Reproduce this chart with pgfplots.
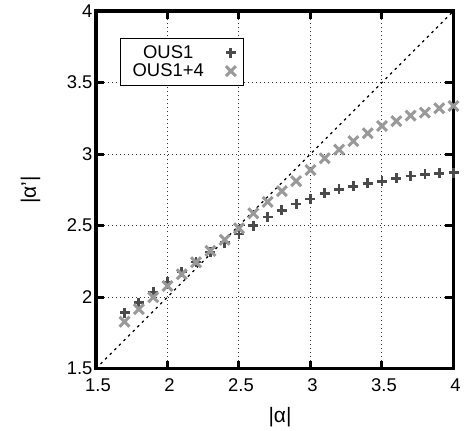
\documentclass[border=0pt]{standalone}
\usepackage{fontspec}
\setmainfont{Liberation Sans}
\usepackage{pgfplots}
\pgfplotsset{compat=1.18}

\definecolor{plusgray}{HTML}{4A4A4A}
\definecolor{crossgray}{HTML}{999999}

% |alpha'| against |alpha| for the two schemes
\pgfplotstableread{
a    b
1.7  1.890
1.8  1.960
1.9  2.035
2.0  2.105
2.1  2.175
2.2  2.245
2.3  2.315
2.4  2.380
2.5  2.440
2.6  2.500
2.7  2.560
2.8  2.605
2.9  2.650
3.0  2.685
3.1  2.725
3.2  2.752
3.3  2.775
3.4  2.795
3.5  2.810
3.6  2.830
3.7  2.846
3.8  2.858
3.9  2.865
4.0  2.870
}\ousone

\pgfplotstableread{
a    b
1.7  1.827
1.8  1.915
1.9  1.998
2.0  2.077
2.1  2.159
2.2  2.243
2.3  2.322
2.4  2.400
2.5  2.480
2.6  2.585
2.7  2.665
2.8  2.740
2.9  2.810
3.0  2.888
3.1  2.970
3.2  3.030
3.3  3.090
3.4  3.145
3.5  3.196
3.6  3.230
3.7  3.268
3.8  3.290
3.9  3.320
4.0  3.336
}\ousonefour

\begin{document}
\begin{tikzpicture}
\begin{axis}[
  at={(0,0)}, anchor=south west,
  scale only axis, width=357.5bp, height=357.5bp,
  xmin=1.5, xmax=4, ymin=1.5, ymax=4,
  xtick={1.5,2,2.5,3,3.5,4}, ytick={1.5,2,2.5,3,3.5,4},
  xtick pos=both, ytick pos=both,
  tick align=inside, major tick length=8bp,
  every tick/.style={black, line width=3bp},
  axis line style={black, line width=3.5bp},
  grid=major,
  grid style={black!80, line width=1bp, dash pattern=on 1bp off 3bp},
  /pgf/number format/assume math mode=true,
  tick label style={font=\fontsize{18.5}{22}\selectfont},
  xticklabel style={anchor=north, yshift=-7bp, xshift=2bp},
  yticklabel style={anchor=east},
  xlabel={|α|}, ylabel={|α’|},
  label style={font=\fontsize{21}{25}\selectfont},
  xlabel style={at={(axis description cs:0.5147,-0.1357)}, anchor=center},
  ylabel style={at={(axis description cs:-0.183,0.5)}, anchor=center},
  legend plot pos=right,
  legend cell align=center,
  legend style={
    at={(axis description cs:0.0671,0.9245)}, anchor=north west,
    draw=black, line width=1.3bp, fill=white,
    font=\fontsize{18.5}{22}\selectfont,
    inner xsep=8bp, inner ysep=5bp, row sep=0bp,
    nodes={inner ysep=2bp, inner xsep=4bp},
    /tikz/every odd column/.append style={column sep=18bp},
  },
]
\addplot[black, line width=1.3bp, dash pattern=on 2.5bp off 4bp, forget plot]
  coordinates {(1.5,1.5) (4,4)};
\addplot[only marks, mark=+, mark size=5bp, plusgray,
  mark options={line width=2.8bp, solid}] table[x=a, y=b] {\ousone};
\addlegendentry{OUS1}
\addplot[only marks, mark=x, mark size=7bp, crossgray,
  mark options={line width=3bp, solid}] table[x=a, y=b] {\ousonefour};
\addlegendentry{OUS1+4}
\end{axis}
\pgfresetboundingbox
\path (-96bp,-62.5bp) rectangle (370bp,368.5bp);
\end{tikzpicture}
\end{document}
